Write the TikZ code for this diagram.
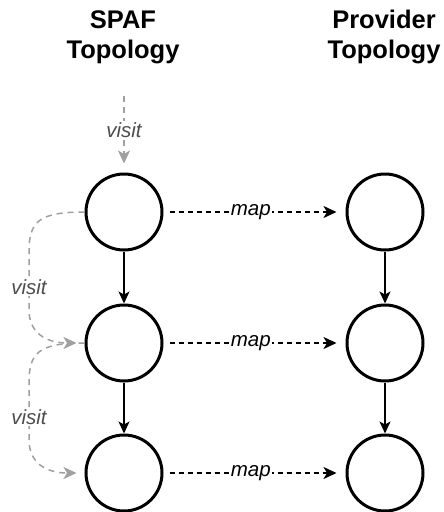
\documentclass[tikz,border=0pt]{standalone}
\usepackage{fontspec}
\setmainfont{Liberation Sans}
\usetikzlibrary{arrows.meta}
\definecolor{visitline}{HTML}{A0A0A0}
\definecolor{visittext}{HTML}{4D4D4D}
\tikzset{
  topo/.style={circle, draw=black, line width=3pt, minimum size=76pt, inner sep=0pt},
  title/.style={align=center, font=\fontsize{25.5pt}{30pt}\selectfont\bfseries},
  edgelbl/.style={fill=white, inner sep=1.5pt, font=\fontsize{20.5pt}{24pt}\selectfont\itshape},
  flow/.style={line width=1.6pt, -{Stealth[length=12pt, width=11pt, inset=3pt]}},
  mapping/.style={line width=1.5pt, dash pattern=on 5pt off 4pt,
    -{Stealth[length=13pt, width=12pt, inset=3.5pt]}},
  visiting/.style={draw=visitline, line width=1.5pt, dash pattern=on 6pt off 5pt,
    -{Stealth[length=13pt, width=12pt, inset=3.5pt, visitline]}}
}
\begin{document}
\begin{tikzpicture}[x=1pt, y=-1pt]
  \useasboundingbox (0,0) rectangle (444,512);

  % column headings (base anchor sits on the last line)
  \node[title, anchor=base] (tl) at (123,58) {SPAF\\Topology};
  \node[title, anchor=base] (tr) at (384,58) {Provider\\Topology};

  % SPAF topology nodes
  \node[topo] (s1) at (124,212) {};
  \node[topo] (s2) at (124,343) {};
  \node[topo] (s3) at (124,473) {};

  % provider topology nodes
  \node[topo] (p1) at (385,212) {};
  \node[topo] (p2) at (385,343) {};
  \node[topo] (p3) at (385,473) {};

  % hierarchy edges
  \draw[flow] (s1) -- (s2);
  \draw[flow] (s2) -- (s3);
  \draw[flow] (p1) -- (p2);
  \draw[flow] (p2) -- (p3);

  % mapping between the two topologies
  \foreach \a/\b in {s1/p1, s2/p2, s3/p3}
    \draw[mapping, shorten <=6pt, shorten >=9pt] (\a) -- node[edgelbl, pos=0.48] {map} (\b);

  % traversal entry point
  \coordinate (entry) at (124,96);
  \draw[visiting, shorten >=9pt] (entry) -- node[edgelbl, text=visittext, pos=0.45] {visit} (s1);

  % traversal from node to node
  \draw[visiting, shorten >=8pt] (s1.west) .. controls (38,212) and (29,222) .. (29,252)
    -- node[edgelbl, text=visittext, pos=0.6] {visit} (29,310)
    .. controls (29,332) and (45,343) .. (s2.west);
  \draw[visiting, shorten >=8pt] (s2.west) .. controls (38,343) and (29,353) .. (29,383)
    -- node[edgelbl, text=visittext, pos=0.6] {visit} (29,440)
    .. controls (29,462) and (45,473) .. (s3.west);
\end{tikzpicture}
\end{document}
